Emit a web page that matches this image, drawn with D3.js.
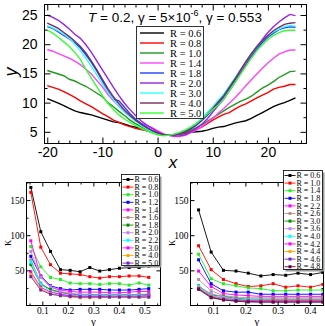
<!DOCTYPE html>
<html><head><meta charset="utf-8">
<script src="https://cdn.jsdelivr.net/npm/d3@7"></script>
<style>body{margin:0;background:#fff}svg{display:block}</style>
</head><body>
<script>
// ---------- Top panel data ----------
const topX = [-20,-19,-18,-17,-16,-15,-14,-13,-12,-11,-10,-9,-8,-7,-6,-5,-4,-3,-2,-1,0,1,2,3,4,5,6,7,8,9,10,11,12,13,14,15,16,17,18,19,20,21,22,23,24,25];
const topR = ["0.6","0.8","1.0","1.4","1.8","2.0","3.0","4.0","5.0"];
const topColors = ["#000000","#ff0000","#1f9a1f","#ff44ff","#2040ff","#9a22e0","#33ffff","#7a2a62","#33ff33"];
const yR06 = [10.7,10.3,9.9,9.5,9.0,8.6,8.3,8.1,7.9,7.6,7.3,7.0,6.7,6.6,6.3,6.0,5.8,5.5,5.2,5.0,4.8,4.5,4.4,4.5,4.6,4.7,4.9,5.0,5.1,5.3,5.6,5.8,5.9,6.2,6.5,6.7,6.9,7.3,7.8,8.3,8.8,9.3,9.7,10.0,10.4,10.8];
const yR08 = [12.9,12.6,12.3,11.9,11.4,10.9,10.3,9.8,9.3,8.7,8.1,7.6,7.0,6.6,6.2,5.9,5.6,5.4,5.2,4.9,4.6,4.4,4.4,4.5,4.6,4.8,5.1,5.4,5.8,6.4,7.0,7.5,8.0,8.3,8.9,9.4,9.8,10.3,10.8,11.3,11.7,12.3,12.6,12.8,13.1,13.1];
const yR10 = [15.5,15.2,14.9,14.6,14.0,13.7,13.2,12.8,12.2,11.6,11.0,10.0,9.3,8.5,7.8,7.0,6.4,5.9,5.4,5.0,4.6,4.4,4.4,4.5,4.6,4.9,5.3,5.7,6.2,6.8,7.4,8.0,8.6,9.2,9.7,10.2,10.6,11.1,11.8,12.5,13.0,13.6,14.3,14.8,15.3,15.4];
const yR14 = [19.1,18.8,18.4,18.0,17.6,17.1,16.5,15.7,14.9,13.8,12.7,11.4,10.3,9.4,8.4,7.6,7.0,6.5,6.1,5.7,5.2,4.7,4.4,4.2,4.2,4.4,4.8,5.3,5.9,6.6,7.3,8.2,9.0,9.9,10.8,11.8,12.9,13.9,14.9,15.9,16.8,17.6,18.3,18.7,19.0,19.0];
const yR18 = [23.0,22.7,22.1,21.5,20.9,20.2,19.4,18.2,16.9,15.4,13.7,12.0,10.6,10.3,9.2,8.1,7.2,6.4,5.8,5.2,4.8,4.5,4.4,4.5,4.7,5.0,5.5,6.1,6.9,7.8,8.8,9.8,11.0,12.3,13.7,15.1,16.5,17.9,19.2,20.3,21.2,21.9,22.5,22.8,23.0,22.9];
const yR20 = [25.0,24.6,24.1,23.4,22.6,21.7,21.0,19.9,18.6,17.1,15.6,14.1,12.6,11.2,9.9,8.8,7.8,6.9,6.2,5.6,5.0,4.6,4.4,4.3,4.3,4.5,5.0,5.6,6.3,7.2,8.4,9.5,10.6,12.0,13.4,15.0,16.6,18.2,19.6,20.8,22.0,23.0,23.8,24.5,25.1,24.9];
const yR30 = [23.2,22.8,22.3,21.7,21.0,20.0,18.9,17.6,16.2,14.7,13.2,11.8,10.5,9.3,8.4,7.6,6.8,6.1,5.5,5.0,4.6,4.4,4.4,4.6,4.9,5.3,5.8,6.4,7.3,8.3,9.3,10.4,11.5,12.8,14.2,15.6,17.0,18.4,19.6,20.6,21.4,22.1,22.6,23.0,23.2,23.1];
const yR40 = [23.6,23.2,22.7,22.0,21.3,20.5,19.6,18.5,17.1,15.6,14.0,12.4,11.0,9.8,8.7,7.8,7.0,6.3,5.7,5.2,4.8,4.5,4.4,4.5,4.7,5.1,5.6,6.3,7.1,8.0,9.0,10.1,11.2,12.6,14.0,15.5,17.0,18.4,19.6,20.6,21.5,22.3,22.9,23.4,23.6,23.7];
const yR50 = [22.4,21.9,21.2,20.4,19.6,18.6,17.4,15.7,14.2,12.7,11.2,9.9,8.8,7.9,7.2,6.6,6.1,5.6,5.2,4.8,4.5,4.3,4.4,4.6,4.9,5.3,5.8,6.4,7.2,8.0,8.8,9.6,10.6,12.0,13.4,14.8,16.2,17.6,18.9,19.9,20.8,21.5,22.0,22.3,22.4,22.4];
const topSeries = [yR06,yR08,yR10,yR14,yR18,yR20,yR30,yR40,yR50];
const topXTicks = [-20,-10,0,10,20];
const topYTicks = [5,10,15,20,25];

// ---------- Bottom-left panel data ----------
const gammaL = [0.055,0.094,0.132,0.171,0.209,0.248,0.286,0.325,0.363,0.402,0.440,0.479,0.517];
const leftR = ["0.6","0.8","1.0","1.2","1.4","1.6","1.8","2.0","2.2","3.0","4.0","5.0"];
const leftColors = ["#000000","#ff0000","#22ee22","#0000ff","#ff00ff","#bc8f8f","#008b00","#c080f0","#00ffff","#ff00ff","#ffa500","#7221bc"];
const kL06 = [168,105,77,51,50,48,54,49,51,53,54,54,56];
const kL08 = [161,83,58,46,45,44,41,39,41,41,42,42,40];
const kL10 = [84,55,40,37,32,31,31,30,31,31,29,32,29];
const kL12 = [70,42,28,24,22,23,23,23,22,22,22,23,24];
const kL14 = [92,41,26,22,20,19,19,19,18,18,19,20,20];
const kL16 = [65,32,22,18,16,16,16,15,15,15,15,16,16];
const kL18 = [58,30,23,19,17,15,15,15,15,15,15,15,16];
const kL20 = [77,40,27,20,17,16,15,15,15,15,15,15,15];
const kL22 = [62,30,20,16,14,14,14,14,14,14,14,14,14];
const kL30 = [48,26,19,16,14,13,13,13,13,13,13,13,14];
const kL40 = [44,24,17,14,12,11,11,11,12,12,12,12,12];
const kL50 = [41,22,16,14,13,12,12,12,12,12,12,12,12];
const leftSeries = [kL06,kL08,kL10,kL12,kL14,kL16,kL18,kL20,kL22,kL30,kL40,kL50];

// ---------- Bottom-right panel data ----------
const gammaR = [0.055,0.094,0.132,0.171,0.209,0.248,0.286,0.325,0.363,0.402,0.440];
const rightR = ["0.6","1.0","1.4","1.8","2.2","2.6","3.0","3.6","4.0","4.2","4.4","4.6","4.8"];
const rightColors = ["#000000","#ff0000","#22ee22","#0000ff","#ff00ff","#bc8f8f","#008b00","#c080f0","#00ffff","#ff00ff","#ffa500","#7221bc","#670748"];
const kR06 = [136,76,50,49,46,42,44,43,46,44,47];
const kR10 = [85,51,37,31,27,28,31,26,28,26,30];
const kR14 = [73,38,31,28,25,24,21,21,22,22,22];
const kR18 = [65,31,21,19,19,16,16,16,16,16,16];
const kR22 = [49,27,17,15,14,13,13,13,13,13,13];
const kR26 = [37,21,14,12,11,11,11,11,11,11,11];
const kR30 = [28,15,13,10,9,9,9,9,9,9,9];
const kR36 = [26,17,12,9,8,8,8,8,8,8,8];
const kR40 = [27,14,11,9,8,8,7,7,7,7,7];
const kR42 = [25,13,10,8,7,7,7,7,7,7,7];
const kR44 = [25,13,9,7,6,6,6,6,6,6,6];
const kR46 = [24,12,8,7,6,5,5,5,5,5,5];
const kR48 = [23,11,8,6,5,5,5,5,5,5,5];
const rightSeries = [kR06,kR10,kR14,kR18,kR22,kR26,kR30,kR36,kR40,kR42,kR44,kR46,kR48];
const kTicks = [50,100,150];
const gTicksL = [0.1,0.2,0.3,0.4,0.5];
const gTicksR = [0.1,0.2,0.3,0.4];

// ---------- Drawing ----------
const W = 325, H = 326;
const svg = d3.select("body").append("svg").attr("width", W).attr("height", H);
const SANS = "'Liberation Sans', Arial, Helvetica, sans-serif";
const SERIF = "'Liberation Serif', 'Times New Roman', Times, serif";

function drawAxes(x, y, o) {
  const [x0, x1] = x.range(), [y0, y1] = y.range();
  const g = svg.append("g");
  function ax(gen, tr, vals, size, labels, pad, font, fs) {
    const a = g.append("g").attr("transform", tr)
      .call(gen.tickValues(vals).tickSize(-size).tickPadding(pad)
        .tickFormat(labels ? (d => String(d)) : () => ""));
    a.select(".domain").remove();
    a.selectAll("line").attr("stroke", "#000").attr("stroke-width", 1);
    a.selectAll("text").attr("font-family", font).attr("font-size", fs).attr("fill", "#000");
    return a;
  }
  ax(d3.axisBottom(x), `translate(0,${y0})`, o.xMajor, o.maj, true, o.xpad, o.font, o.fs);
  ax(d3.axisBottom(x), `translate(0,${y0})`, o.xMinor, o.min, false, 0, o.font, o.fs);
  ax(d3.axisTop(x), `translate(0,${y1})`, o.xMajor, o.maj, false, 0, o.font, o.fs);
  ax(d3.axisTop(x), `translate(0,${y1})`, o.xMinor, o.min, false, 0, o.font, o.fs);
  ax(d3.axisLeft(y), `translate(${x0},0)`, o.yMajor, o.maj, true, o.ypad, o.font, o.fs);
  ax(d3.axisLeft(y), `translate(${x0},0)`, o.yMinor, o.min, false, 0, o.font, o.fs);
  ax(d3.axisRight(y), `translate(${x1},0)`, o.yMajor, o.maj, false, 0, o.font, o.fs);
  ax(d3.axisRight(y), `translate(${x1},0)`, o.yMinor, o.min, false, 0, o.font, o.fs);
  g.append("rect").attr("x", x0).attr("y", y1).attr("width", x1 - x0).attr("height", y0 - y1)
    .attr("fill", "none").attr("stroke", "#000").attr("stroke-width", 1);
}

function clip(id, x, y) {
  const [x0, x1] = x.range(), [y0, y1] = y.range();
  svg.append("clipPath").attr("id", id).append("rect")
    .attr("x", x0).attr("y", y1).attr("width", x1 - x0).attr("height", y0 - y1);
  return `url(#${id})`;
}

// ===== Top panel =====
const xT = d3.scaleLinear().domain([-20.5, 27]).range([44.5, 306.5]);
const yT = d3.scaleLinear().domain([3, 26.8]).range([143.5, 4.5]);
const cT = clip("cT", xT, yT);
const gT = svg.append("g").attr("clip-path", cT);
const lineT = d3.line().x((d, i) => xT(topX[i])).y(d => yT(d));
topSeries.forEach((s, k) => {
  gT.append("path").datum(s).attr("d", lineT).attr("fill", "none")
    .attr("stroke", topColors[k]).attr("stroke-width", 1.4);
});
drawAxes(xT, yT, {
  xMajor: topXTicks, xMinor: [-18,-16,-14,-12,-8,-6,-4,-2,2,4,6,8,12,14,16,18,22,24,26],
  yMajor: topYTicks, yMinor: [7.5,12.5,17.5,22.5],
  maj: 6, min: 3, xpad: 4, ypad: 7, font: SANS, fs: 14
});
const title = svg.append("text").attr("x", 88).attr("y", 22)
  .attr("font-family", SANS).attr("font-size", 13.5).attr("fill", "#000");
title.append("tspan").attr("font-style", "italic").text("T");
title.append("tspan").text(" = 0.2, γ = 5×10");
title.append("tspan").attr("font-size", 9).attr("dy", -6).text("-6");
title.append("tspan").attr("dy", 6).text(", γ = 0.553");
svg.append("text").attr("transform", "translate(17,72) rotate(-90)").attr("text-anchor", "middle")
  .attr("font-family", SANS).attr("font-style", "italic").attr("font-size", 18).text("y");
svg.append("text").attr("x", 173).attr("y", 168).attr("text-anchor", "middle")
  .attr("font-family", SANS).attr("font-style", "italic").attr("font-size", 17).text("x");
{
  const lg = svg.append("g");
  lg.append("rect").attr("x", 136.5).attr("y", 26.5).attr("width", 67).attr("height", 92)
    .attr("fill", "#fff").attr("stroke", "#333").attr("stroke-width", 1);
  topR.forEach((r, i) => {
    const yy = 33 + i * 10;
    lg.append("line").attr("x1", 140).attr("x2", 164).attr("y1", yy).attr("y2", yy)
      .attr("stroke", topColors[i]).attr("stroke-width", 1.4);
    lg.append("text").attr("x", 170).attr("y", yy + 3.5).attr("font-family", SERIF)
      .attr("font-size", 10.5).text("R = " + r);
  });
}

// ===== Bottom panels =====
function bottomPanel(id, xs, series, colors, labels, xDom, xRange, xMajor, xMinor, leg) {
  const x = d3.scaleLinear().domain(xDom).range(xRange);
  const y = d3.scaleLinear().domain([0, 175]).range([305.5, 182.5]);
  const c = clip(id, x, y);
  const g = svg.append("g").attr("clip-path", c);
  const line = d3.line().x((d, i) => x(xs[i])).y(d => y(d));
  series.forEach((s, k) => {
    g.append("path").datum(s).attr("d", line).attr("fill", "none")
      .attr("stroke", colors[k]).attr("stroke-width", 0.9);
    g.selectAll(null).data(s).enter().append("rect")
      .attr("x", (d, i) => x(xs[i]) - 1.5).attr("y", d => y(d) - 1.5)
      .attr("width", 3).attr("height", 3).attr("fill", colors[k]);
  });
  drawAxes(x, y, {
    xMajor: xMajor, xMinor: xMinor, yMajor: kTicks, yMinor: [25, 75, 125, 175],
    maj: 4, min: 2, xpad: 2, ypad: 2, font: SERIF, fs: 9.5
  });
  const lg = svg.append("g");
  lg.append("rect").attr("x", leg.x + 2).attr("y", leg.y + 2).attr("width", leg.w).attr("height", leg.h)
    .attr("fill", "#999");
  lg.append("rect").attr("x", leg.x).attr("y", leg.y).attr("width", leg.w).attr("height", leg.h)
    .attr("fill", "#fff").attr("stroke", "#000").attr("stroke-width", 0.8);
  labels.forEach((r, i) => {
    const yy = leg.y0 + i * leg.dy;
    lg.append("line").attr("x1", leg.lx).attr("x2", leg.lx + 11).attr("y1", yy).attr("y2", yy)
      .attr("stroke", colors[i]).attr("stroke-width", 0.9);
    lg.append("rect").attr("x", leg.lx + 4).attr("y", yy - 1.5).attr("width", 3).attr("height", 3)
      .attr("fill", colors[i]);
    lg.append("text").attr("x", leg.lx + 12).attr("y", yy + 2.6).attr("font-family", SERIF)
      .attr("font-size", leg.fs).text("R = " + r);
  });
  const xm = (xRange[0] + xRange[1]) / 2;
  svg.append("text").attr("x", xm).attr("y", 325).attr("text-anchor", "middle")
    .attr("font-family", SERIF).attr("font-size", 11).text("γ");
  svg.append("text").attr("transform", `translate(${xRange[0] - 16},${243}) rotate(-90)`)
    .attr("text-anchor", "middle").attr("font-family", SERIF).attr("font-size", 12).text("κ");
}

bottomPanel("cL", gammaL, leftSeries, leftColors, leftR, [0.038, 0.563], [26.5, 160.5],
  gTicksL, [0.05,0.15,0.25,0.35,0.45,0.55],
  { x: 121.5, y: 174.5, w: 38, h: 91, lx: 122.5, y0: 179.5, dy: 7.6, fs: 8 });
bottomPanel("cR", gammaR, rightSeries, rightColors, rightR, [0.03, 0.442], [190.5, 323.5],
  gTicksR, [0.05,0.15,0.25,0.35],
  { x: 283.5, y: 170.5, w: 39, h: 99, lx: 284.5, y0: 175.5, dy: 7.6, fs: 8 });
</script>
</body></html>
